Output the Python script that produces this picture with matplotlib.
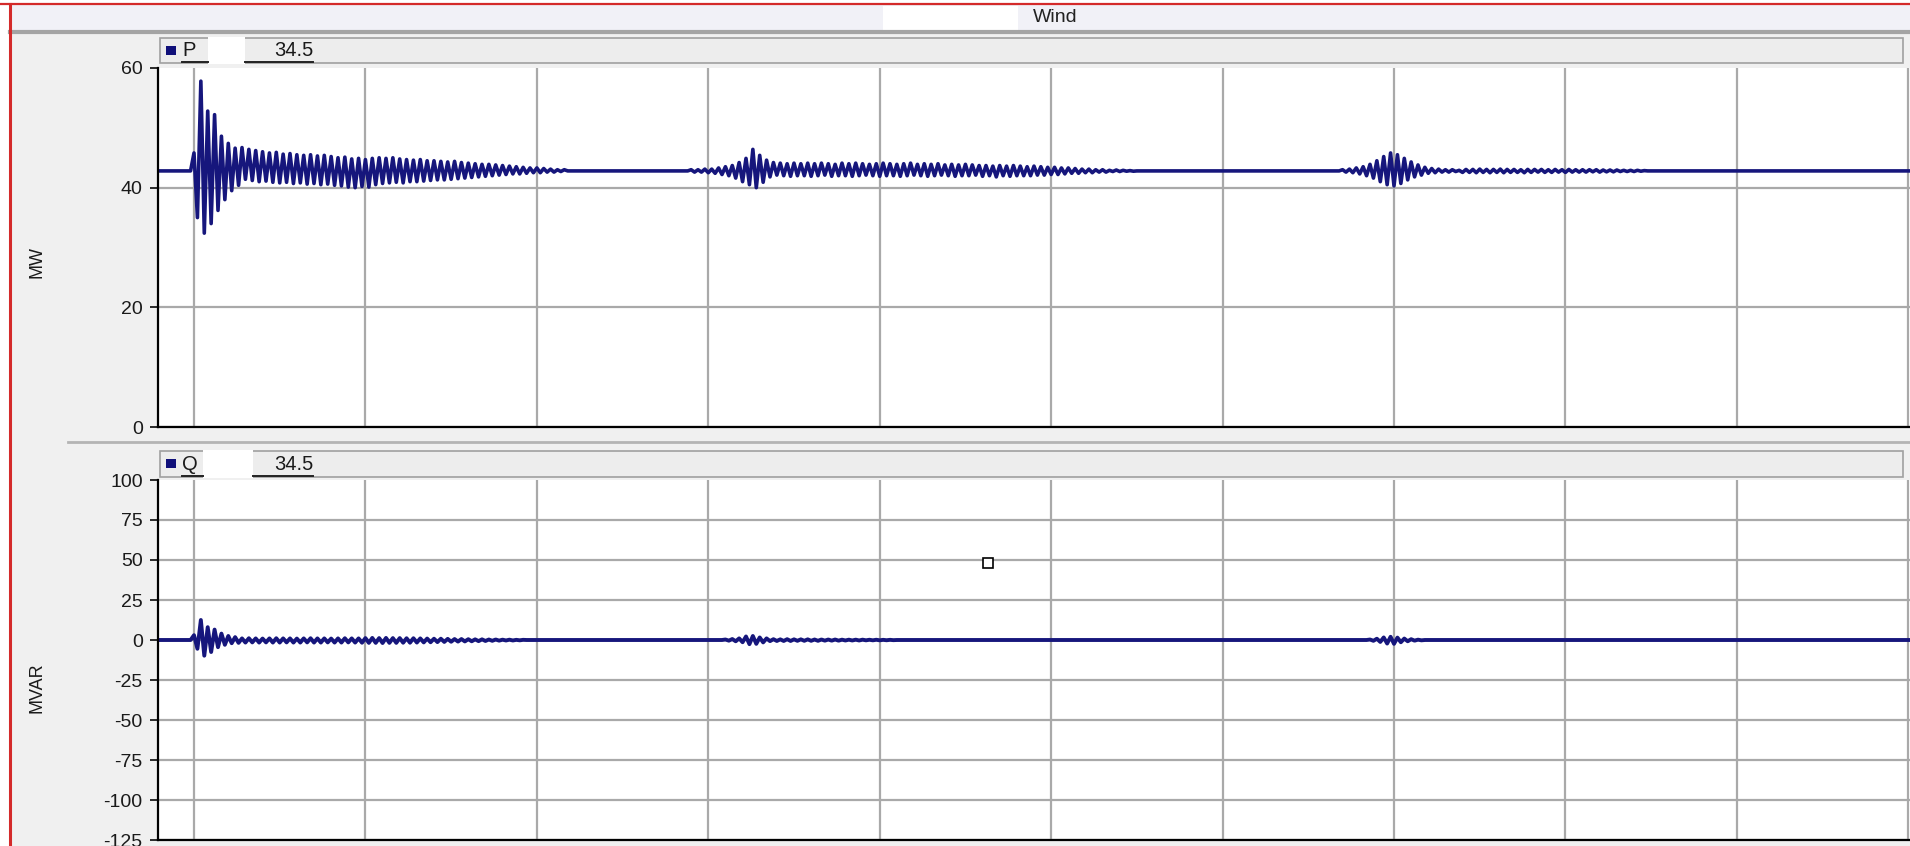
import numpy as np
import matplotlib.pyplot as plt
from matplotlib.patches import Rectangle
from matplotlib.lines import Line2D

plt.rcParams['font.family'] = ['Liberation Sans', 'DejaVu Sans']
plt.rcParams['axes.unicode_minus'] = False

# spacing (s) between successive swing extremes in the recorded traces
DT = 0.02

# active power P, MW
p_level = 42.8
p_burst1_start = 0.0
p_burst1 = [45.8, 35.0, 57.8, 32.4, 52.8, 34.0, 52.2, 36.2, 48.6, 38.0,
            47.4, 39.5, 46.6, 40.4, 46.7, 41.4, 46.4, 41.2, 46.2, 41.0,
            46.0, 41.1, 45.8, 40.9, 45.9, 40.8, 45.6, 40.9, 45.7, 40.7,
            45.5, 40.8, 45.4, 40.6, 45.5, 40.7, 45.3, 40.5, 45.4, 40.6,
            45.2, 40.4, 45.0, 40.3, 45.1, 40.1, 44.8, 40.0, 44.9, 40.2,
            44.7, 40.1, 44.9, 40.5, 45.0, 40.7, 44.9, 40.8, 45.0, 40.9,
            44.8, 40.8, 44.7, 41.0, 44.6, 41.0, 44.7, 41.1, 44.5, 41.2,
            44.5, 41.3, 44.4, 41.3, 44.3, 41.4, 44.4, 41.5, 44.2, 41.6,
            44.1, 41.7, 44.0, 41.8, 43.9, 41.9, 43.9, 42.0, 43.8, 42.1,
            43.7, 42.2, 43.6, 42.3, 43.5, 42.3, 43.4, 42.4, 43.3, 42.5,
            43.3, 42.5, 43.2, 42.6, 43.1, 42.6, 43.0, 42.7, 43.0, 42.8]
p_burst2_start = 2.90
p_burst2 = [43.0, 42.6, 43.0, 42.6, 43.1, 42.5, 43.1,
            42.4, 43.3, 42.2, 43.5, 42.0, 43.7,
            41.6, 44.2, 41.0, 44.9, 40.5,
            46.4, 40.0, 45.4, 40.9, 44.6, 41.8, 44.2, 42.1,
            44.1, 42.0, 44.0, 41.9, 44.1, 42.0, 44.0, 42.0, 44.1, 41.9,
            44.0, 42.0, 44.1, 42.1, 44.0, 41.9, 43.9, 42.0, 44.1, 42.0,
            44.0, 41.9, 44.1, 42.0, 44.0, 42.1, 43.9, 42.0, 44.0, 41.9,
            44.1, 42.0, 44.0, 42.0, 43.9, 41.9, 44.0, 42.0, 44.1, 42.1,
            43.9, 42.0, 44.0, 41.9, 43.9, 42.0, 44.0, 42.1, 43.8, 42.0,
            43.9, 41.9, 43.8, 42.0, 43.9, 42.0, 43.8, 42.1,
            43.7, 41.9, 43.7, 42.0, 43.6, 41.8, 43.7, 42.0, 43.6, 41.9,
            43.7, 42.0, 43.6, 42.0, 43.5, 42.0, 43.6, 42.1, 43.5, 42.1, 43.4, 42.2,
            43.4, 42.2, 43.3, 42.3, 43.3, 42.4, 43.2, 42.4, 43.1, 42.5,
            43.1, 42.5, 43.0, 42.6, 43.0, 42.6, 42.9, 42.7, 42.95, 42.7,
            42.9, 42.75, 42.85, 42.75, 42.8]
p_burst3_start = 6.70
p_burst3 = [43.0, 42.6, 43.1, 42.5, 43.3, 42.3, 43.5,
            42.0, 43.9, 41.6, 44.5, 41.0, 45.2,
            40.5, 45.8, 40.3, 45.5,
            40.7, 44.9, 41.3, 44.3, 41.8, 43.8, 42.1, 43.4,
            42.4, 43.2, 42.5, 43.1, 42.6, 43.0, 42.6, 43.0, 42.7, 42.9,
            42.55, 43.05, 42.55, 43.05, 42.5, 43.1, 42.55, 43.05, 42.5, 43.05,
            42.55, 43.1, 42.5, 43.05, 42.55, 43.05, 42.55, 43.0, 42.5, 43.05,
            42.55, 43.05, 42.6, 43.05, 42.55, 43.0, 42.55, 43.05, 42.6, 43.0,
            42.55, 43.05, 42.6, 43.0, 42.6, 43.0, 42.6, 43.0, 42.65, 43.0,
            42.6, 42.95, 42.65, 42.95, 42.65, 42.95, 42.7, 42.9, 42.7, 42.9,
            42.7, 42.9, 42.75, 42.85]

# reactive power Q, MVAR
q_level = 0.0
q_burst1_start = 0.0
q_burst1 = [3.0, -5.5, 12.5, -9.8, 8.0, -7.5, 6.5, -4.5, 4.0, -3.0,
            2.5, -2.0, 1.8, -1.8,
            1.0, -1.6, 1.1, -1.5, 1.0, -1.6, 0.9, -1.5, 1.0, -1.6,
            1.1, -1.6, 1.0, -1.5, 1.0, -1.6, 0.9, -1.6, 1.0, -1.5,
            1.1, -1.6, 1.0, -1.6, 1.0, -1.5, 0.9, -1.6, 1.0, -1.6,
            1.1, -1.5, 1.0, -1.6, 1.0, -1.7,
            1.2, -1.8, 1.3, -1.8, 1.2, -1.9, 1.3, -1.8, 1.2, -1.8,
            1.2, -1.7, 1.1, -1.7, 1.1, -1.6, 1.0, -1.5, 0.9, -1.4,
            0.8, -1.3, 0.8, -1.2,
            0.7, -1.1, 0.6, -1.0, 0.6, -0.9, 0.5, -0.8, 0.4, -0.7,
            0.4, -0.6, 0.3, -0.5, 0.3, -0.4, 0.2, -0.3, 0.2, -0.3,
            0.1, -0.2, 0.1]
q_burst2_start = 3.10
q_burst2 = [0.3, -0.4, 0.6, -0.8, 1.0, -1.4,
            2.2, -2.6, 2.5, -2.4, 1.6, -1.5, 1.0,
            -0.7, 0.5, -0.6, 0.4, -0.6, 0.5, -0.6, 0.4, -0.5, 0.4,
            -0.5, 0.4, -0.5, 0.3, -0.5, 0.3, -0.4, 0.3, -0.4, 0.3,
            -0.4, 0.2, -0.3, 0.2, -0.3, 0.2, -0.3, 0.2, -0.2, 0.15,
            -0.2, 0.15, -0.2, 0.1, -0.15, 0.1, -0.1]
q_burst3_start = 6.86
q_burst3 = [0.3, -0.5, 0.8, -1.2, 1.6,
            -2.2, 2.0, -2.4, 1.5, -1.4,
            0.9, -0.8, 0.5, -0.4, 0.2, -0.2]

# cursor box left on the Q panel
cursor_t, cursor_q = 4.63, 48.0

p_ticks = [0, 20, 40, 60]
q_ticks = [-125, -100, -75, -50, -25, 0, 25, 50, 75, 100]
t_grid = list(range(11))
t_lim = (-0.21, 10.01)


def build_trace(level, bursts, t0, t1):
    ts, vs = [t0], [level]
    for start, vals in bursts:
        t = start + DT * np.arange(len(vals))
        ts += [start - DT] + list(t) + [t[-1] + DT]
        vs += [level] + list(vals) + [level]
    ts.append(t1)
    vs.append(level)
    return np.array(ts), np.array(vs)


p_t, p_v = build_trace(p_level, [(p_burst1_start, p_burst1),
                                 (p_burst2_start, p_burst2),
                                 (p_burst3_start, p_burst3)], *t_lim)
q_t, q_v = build_trace(q_level, [(q_burst1_start, q_burst1),
                                 (q_burst2_start, q_burst2),
                                 (q_burst3_start, q_burst3)], *t_lim)

W, H = 1910, 846
TRACE = '#16167c'
GRID = '#a9a9a9'
FS = 14

fig = plt.figure(figsize=(W / 100, H / 100), dpi=100, facecolor='#f0f0f0')


def box(x0, y0, x1, y1):
    # pixel box, origin at top left -> figure fraction
    return [x0 / W, 1 - y1 / H, (x1 - x0) / W, (y1 - y0) / H]


def rect(x0, y0, x1, y1, **kw):
    l, b, w, h = box(x0, y0, x1, y1)
    fig.add_artist(Rectangle((l, b), w, h, transform=fig.transFigure, **kw))


def line(x0, y0, x1, y1, **kw):
    fig.add_artist(Line2D([x0 / W, x1 / W], [1 - y0 / H, 1 - y1 / H],
                          transform=fig.transFigure, **kw))


def style_axes(ax, ticks, ylim):
    ax.set_xlim(*t_lim)
    ax.set_ylim(*ylim)
    ax.set_xticks(t_grid)
    ax.set_yticks(ticks)
    ax.tick_params(axis='x', length=0, labelbottom=False)
    ax.tick_params(axis='y', direction='out', length=6, width=1.3,
                   labelsize=FS, pad=5, colors='#1a1a1a')
    ax.grid(True, color=GRID, lw=1.6)
    ax.yaxis.get_major_ticks()[-1].gridline.set_visible(False)
    for s in ['top', 'right']:
        ax.spines[s].set_visible(False)
    for s in ['left', 'bottom']:
        ax.spines[s].set_color('black')
        ax.spines[s].set_linewidth(1.6)
    ax.set_facecolor('white')


ax1 = fig.add_axes(box(158, 68, W, 427))
ax1.plot(p_t, p_v, color=TRACE, lw=2.6)
style_axes(ax1, p_ticks, (0, 60))

ax2 = fig.add_axes(box(158, 480, W, 840))
ax2.plot(q_t, q_v, color=TRACE, lw=2.8)
ax2.plot([cursor_t], [cursor_q], marker='s', ms=7, mfc='white', mec='black',
         mew=1.2, zorder=5)
style_axes(ax2, q_ticks, (-125, 100))

# window frame and title bar
rect(0, 0, W, 4, fc='white', ec='none')
rect(0, 4, W, 31, fc='#f1f1f7', ec='none')
line(10, 32, W, 32, color='#a4a4a4', lw=3)
line(0, 4, W, 4, color='#d42a2a', lw=1.6)
rect(0, 0, 9, H, fc='white', ec='none')
line(10, 4, 10, H, color='#d42a2a', lw=2.2)
line(68, 442, W, 442, color='#b4b4b4', lw=2)
rect(883, 6, 1018, 33, fc='white', ec='none')
fig.text(1055 / W, 1 - 18 / H, 'Wind', ha='center', va='center',
         fontsize=FS, color='#222222')

fig.text(37 / W, 1 - 262 / H, 'MW', rotation=90, ha='center', va='center',
         fontsize=FS - 1, color='#1a1a1a')
fig.text(37 / W, 1 - 688 / H, 'MVAR', rotation=90, ha='center', va='center',
         fontsize=FS - 1, color='#1a1a1a')

# series headers above each panel
for name, y0, y1, gap in [('P', 38, 63, (208, 245)), ('Q', 451, 477, (203, 253))]:
    rect(160, y0, 1903, y1, fc='#ededed', ec='#a0a0a0', lw=1.2)
    rect(166, y0 + 8, 176, y0 + 17, fc='#10107a', ec='none')
    ym = (y0 + y1) / 2
    fig.text(182 / W, 1 - ym / H, name, ha='left', va='center',
             fontsize=FS + 0.5, color='#1a1a1a')
    line(182, y1 - 1, gap[0], y1 - 1, color='#222222', lw=1.4)
    rect(gap[0], y0 - 1, gap[1], y1 + 1, fc='white', ec='none')
    line(gap[1], y1 - 1, 313, y1 - 1, color='#222222', lw=1.4)
    fig.text(313 / W, 1 - ym / H, '34.5', ha='right', va='center',
             fontsize=FS + 0.5, color='#1a1a1a')

fig.savefig('out.png', dpi=100, facecolor=fig.get_facecolor())
